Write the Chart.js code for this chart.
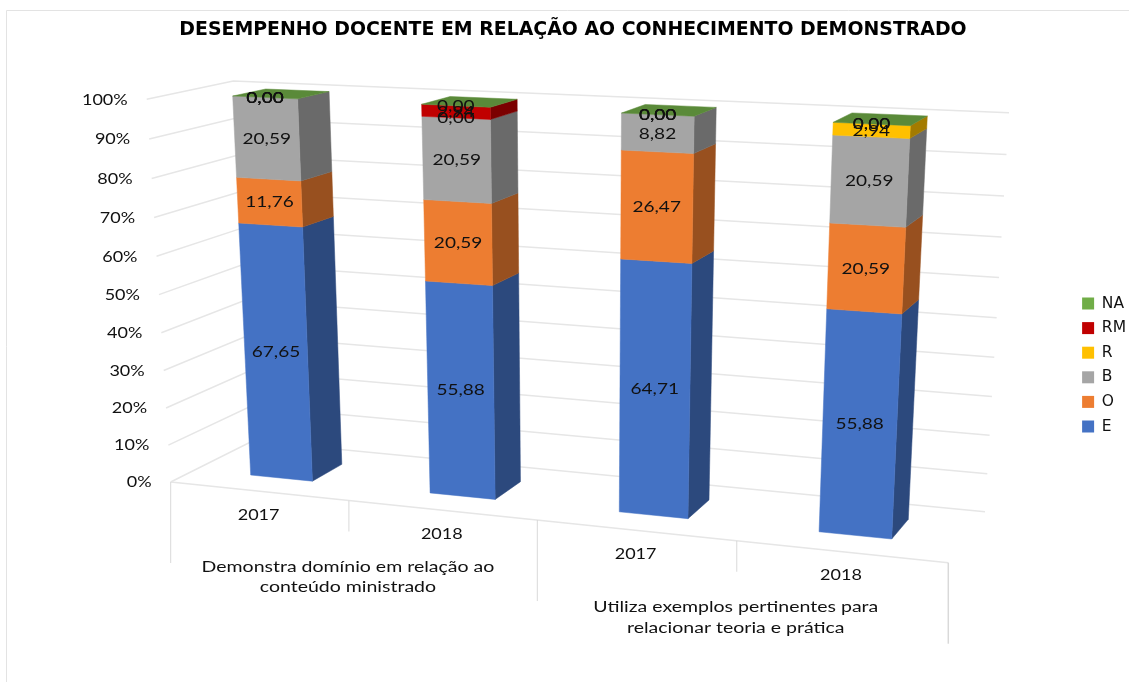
<!DOCTYPE html>
<html lang="pt">
<head>
<meta charset="utf-8">
<title>Desempenho docente</title>
<script src="https://cdn.jsdelivr.net/npm/chart.js@4"></script>
<style>
    html, body { margin: 0; padding: 0; background: #fff; }
    #wrap { width: 1129px; height: 682px; }
</style>
</head>
<body>
<div id="wrap"><canvas id="chart" width="1129" height="682"></canvas></div>
<script>
const chartTitle = "DESEMPENHO DOCENTE EM RELAÇÃO AO CONHECIMENTO DEMONSTRADO";
const categories = ["2017", "2018", "2017", "2018"];
const groupLabels = [
    ["Demonstra domínio em relação ao", "conteúdo ministrado"],
    ["Utiliza exemplos pertinentes para", "relacionar teoria e prática"]
];

const valuesE = [67.65, 55.88, 64.71, 55.88];
const valuesO = [11.76, 20.59, 26.47, 20.59];
const valuesB = [20.59, 20.59, 8.82, 20.59];
const valuesR = [0, 0, 0, 2.94];
const valuesRM = [0, 2.94, 0, 0];
const valuesNA = [0, 0, 0, 0];

const GRID = "#e6e6e6";
const AXIS = "#d9d9d9";
const TEXT = "#111";
const LABEL_FONT = "15px Lato";

// pixel corners of the 3d view: [bottom-left, bottom-right, top-right, top-left]
const barFrontQuad = [[250.7, 475], [891.7, 539], [910.3, 125.7], [232.7, 96]];
const barBackQuad = [[281.5, 458.5], [908.3, 519.3], [927.3, 116], [265.7, 89]];
const wallQuad = [[249, 441], [985, 511.7], [1009, 112.7], [233.3, 81]];
const sideWallQuad = [[170.7, 482], [252.5, 441], [233.3, 81], [146.7, 99.3]];
// front edge of the floor, the categories get wider towards the viewer
const floorStart = [170.7, 482];
const floorEnd = [948.3, 562.7];
const FLOOR_PERSPECTIVE = -0.108;

function homography(q) {
    const [[x0, y0], [x1, y1], [x2, y2], [x3, y3]] = q;
    const sx = x0 - x1 + x2 - x3, sy = y0 - y1 + y2 - y3;
    const dx1 = x1 - x2, dx2 = x3 - x2, dy1 = y1 - y2, dy2 = y3 - y2;
    const den = dx1 * dy2 - dx2 * dy1;
    const g = (sx * dy2 - dx2 * sy) / den;
    const h = (dx1 * sy - sx * dy1) / den;
    const a = x1 - x0 + g * x1, b = x3 - x0 + h * x3;
    const d = y1 - y0 + g * y1, e = y3 - y0 + h * y3;
    return (u, v) => {
        const w = g * u + h * v + 1;
        return [(a * u + b * v + x0) / w, (d * u + e * v + y0) / w];
    };
}

const toBarFront = homography(barFrontQuad);
const toBarBack = homography(barBackQuad);
const toWall = homography(wallQuad);
const toSideWall = homography(sideWallQuad);

function toFloorEdge(u) {
    const t = u * (1 + FLOOR_PERSPECTIVE) / (1 + FLOOR_PERSPECTIVE * u);
    return [floorStart[0] + (floorEnd[0] - floorStart[0]) * t, floorStart[1] + (floorEnd[1] - floorStart[1]) * t];
}

function shade(hex, k) {
    const n = parseInt(hex.slice(1), 16);
    const c = s => Math.round(((n >> s) & 255) * k);
    return `rgb(${c(16)},${c(8)},${c(0)})`;
}

function poly(ctx, pts, color) {
    ctx.beginPath();
    pts.forEach((p, i) => i ? ctx.lineTo(p[0], p[1]) : ctx.moveTo(p[0], p[1]));
    ctx.closePath();
    ctx.fillStyle = color;
    ctx.strokeStyle = color;
    ctx.lineWidth = 0.5;
    ctx.fill();
    ctx.stroke();
}

function line(ctx, pts, color, width) {
    ctx.beginPath();
    pts.forEach((p, i) => i ? ctx.lineTo(p[0], p[1]) : ctx.moveTo(p[0], p[1]));
    ctx.strokeStyle = color;
    ctx.lineWidth = width;
    ctx.stroke();
}

// the reference text is stretched sideways, so draw it the same way
function wideText(ctx, str, x, y, align, sx = 1.27) {
    ctx.save();
    ctx.translate(x, y);
    ctx.scale(sx, 1);
    ctx.font = LABEL_FONT;
    ctx.fillStyle = TEXT;
    ctx.textAlign = align;
    ctx.textBaseline = "middle";
    ctx.fillText(str, 0, 0);
    ctx.restore();
}

const view3d = {
    id: "view3d",
    beforeDatasetsDraw(chart) {
        const { ctx, scales } = chart;
        const xs = scales.x, ys = scales.y;
        const base = ys.getPixelForValue(0), top = ys.getPixelForValue(100);
        const vOf = px => (base - px) / (base - top);
        const metas = chart.data.datasets.map((d, i) => chart.getDatasetMeta(i));
        const first = metas[0].data[0], last = metas[0].data[categories.length - 1];
        const u0 = first.x - first.width / 2, u1 = last.x + last.width / 2;
        const uOf = px => (px - u0) / (u1 - u0);

        ctx.save();
        // chart frame
        line(ctx, [[6.5, 682], [6.5, 10.5], [1129, 10.5]], "#e3e3e3", 1);

        // walls and floor
        ys.ticks.forEach(t => {
            const v = vOf(ys.getPixelForValue(t.value));
            line(ctx, [toSideWall(0, v), toSideWall(1, v), toWall(1, v)], GRID, 1.5);
            const p = toSideWall(0, v);
            wideText(ctx, t.value + "%", p[0] - 19, p[1] + 0.5, "right", 1.2);
        });
        line(ctx, [floorStart, floorEnd], GRID, 1.5);

        // category dividers, long ones close each group
        categories.forEach((c, i) => {
            const p = toFloorEdge(i / categories.length);
            const drop = i % 2 ? 31 : 81;
            line(ctx, [[p[0], p[1]], [p[0], p[1] + drop]], AXIS, 1);
        });
        line(ctx, [floorEnd, [floorEnd[0], floorEnd[1] + 81]], AXIS, 1.5);

        // axis labels
        categories.forEach((c, i) => {
            const p = toFloorEdge((xs.getPixelForValue(i) - xs.left) / (xs.right - xs.left));
            wideText(ctx, c, p[0], p[1] + 24, "center", 1.2);
        });
        groupLabels.forEach((g, i) => {
            const p = toFloorEdge((i * 2 + 1) / categories.length);
            g.forEach((txt, j) => wideText(ctx, txt, p[0] - 1, p[1] + 66.5 + j * 20.5, "center", 1.3));
        });

        // bars, bottom segment first
        metas.forEach((meta, di) => {
            const color = chart.data.datasets[di].backgroundColor;
            meta.data.forEach(bar => {
                const l = uOf(bar.x - bar.width / 2), r = uOf(bar.x + bar.width / 2);
                const vb = vOf(bar.base), vt = vOf(bar.y);
                if (vt - vb > 0.0001) {
                    poly(ctx, [toBarFront(r, vb), toBarBack(r, vb), toBarBack(r, vt), toBarFront(r, vt)], shade(color, 0.64));
                    poly(ctx, [toBarFront(l, vb), toBarFront(r, vb), toBarFront(r, vt), toBarFront(l, vt)], color);
                }
                if (di === metas.length - 1) {
                    poly(ctx, [toBarFront(l, vt), toBarFront(r, vt), toBarBack(r, vt), toBarBack(l, vt)], shade(color, 0.8));
                }
            });
        });

        // value labels, the zero ones pile up at the stack ends as in the original
        metas.forEach(meta => {
            meta.data.forEach((bar, i) => {
                const val = chart.data.datasets[meta.index].data[i];
                const c = uOf(bar.x);
                const a = toBarFront(c, vOf(bar.base)), b = toBarFront(c, vOf(bar.y));
                wideText(ctx, val.toFixed(2).replace(".", ","), (a[0] + b[0]) / 2, (a[1] + b[1]) / 2 + 0.5, "center");
            });
        });
        ctx.restore();
        return false;
    }
};

const seriesDefs = [
    ["E", valuesE, "#4472c4"],
    ["O", valuesO, "#ed7d31"],
    ["B", valuesB, "#a5a5a5"],
    ["R", valuesR, "#ffc000"],
    ["RM", valuesRM, "#c00000"],
    ["NA", valuesNA, "#70ad47"]
];

new Chart(document.getElementById("chart").getContext("2d"), {
    type: "bar",
    data: {
        labels: categories,
        datasets: seriesDefs.map(s => ({
            label: s[0],
            data: s[1],
            backgroundColor: s[2],
            categoryPercentage: 1,
            barPercentage: 0.35
        }))
    },
    options: {
        responsive: false,
        animation: false,
        layout: { padding: { left: 10, top: 11, right: -7, bottom: -37 } },
        scales: {
            x: { stacked: true, display: false },
            y: { stacked: true, display: false, min: 0, max: 100, ticks: { stepSize: 10 } }
        },
        plugins: {
            title: {
                display: true,
                text: chartTitle,
                color: "#000",
                font: { family: "'DejaVu Sans'", size: 18.9, weight: "bold" },
                padding: { top: 8, bottom: 8 }
            },
            legend: {
                position: "right",
                reverse: true,
                labels: {
                    boxWidth: 12,
                    boxHeight: 12,
                    padding: 9.1,
                    color: TEXT,
                    font: { family: "'DejaVu Sans'", size: 15.5 }
                }
            },
            tooltip: { enabled: false }
        }
    },
    plugins: [view3d]
});
</script>
</body>
</html>
